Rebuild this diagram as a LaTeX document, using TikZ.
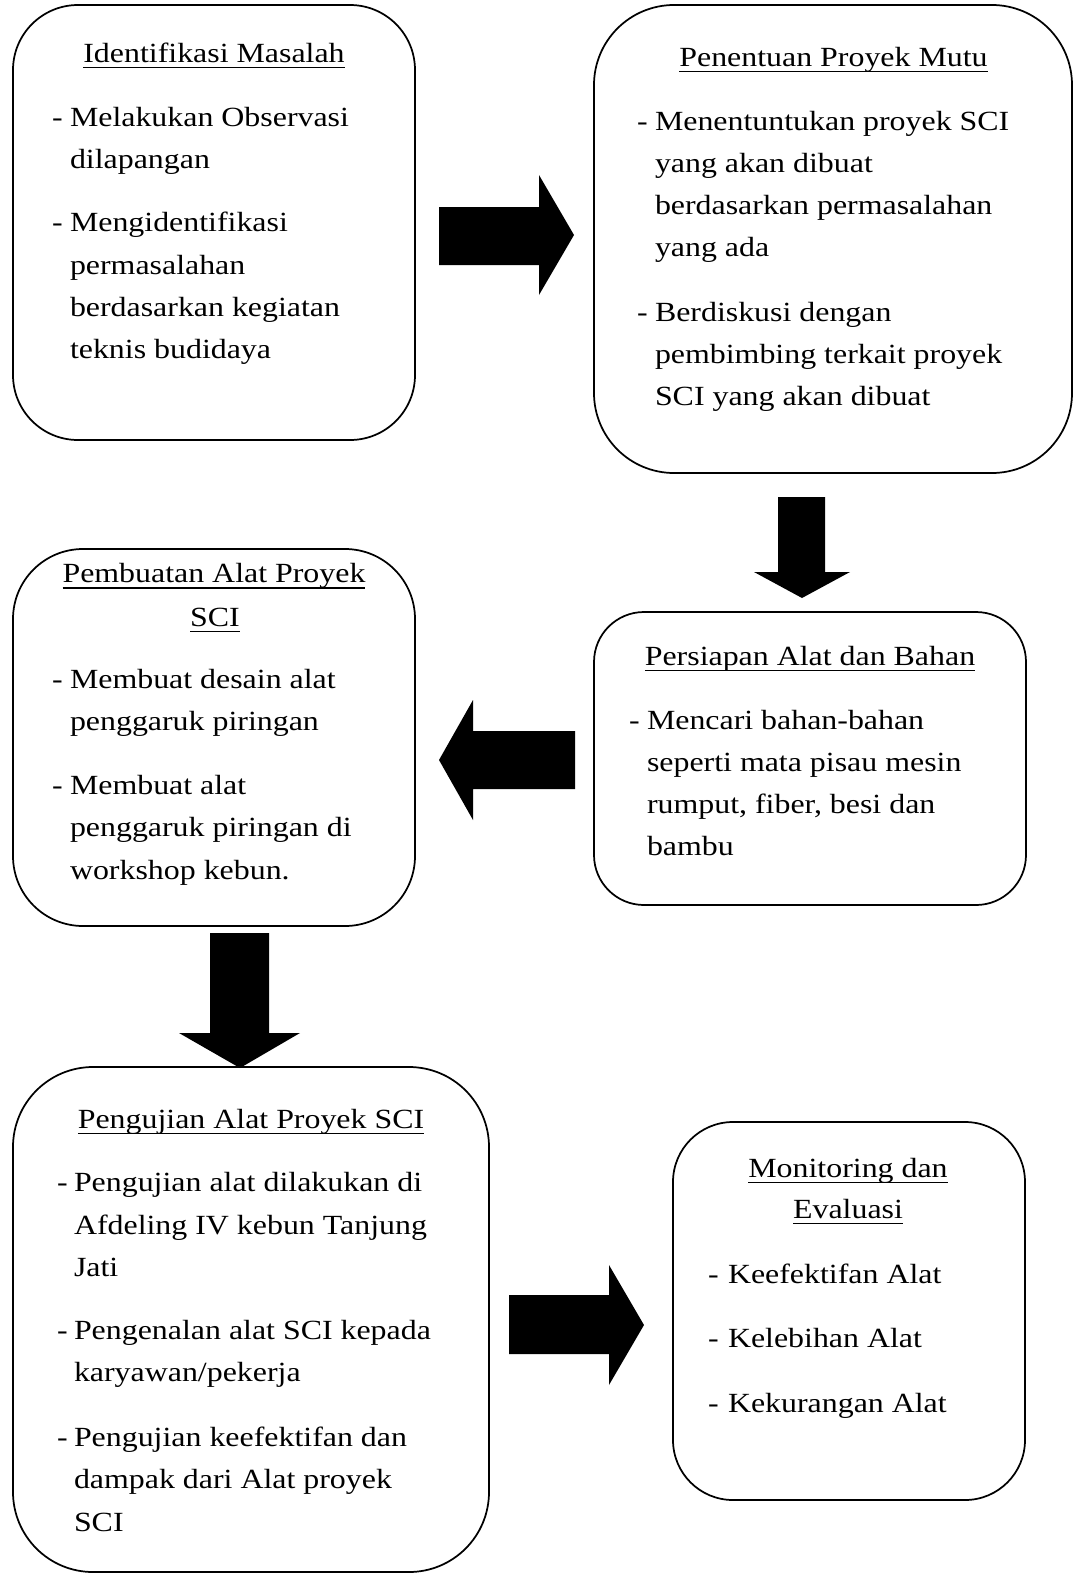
\documentclass[tikz,border=0pt]{standalone}
\usepackage{fontspec}
\setmainfont{Liberation Serif}[FakeStretch=1.15]
\usetikzlibrary{calc}
\tikzset{
  boxstyle/.style={draw=black, line width=1.3pt, inner sep=0pt},
  txt/.style={inner sep=0pt, outer sep=0pt, font=\fontsize{20.8pt}{25pt}\selectfont},
  ttl/.style={txt, anchor=base},
  lin/.style={txt, anchor=base west},
  uln/.style={line width=1.1pt},
  blk/.style={fill=black, draw=none}
}
\newcommand\mybox[6]{%
  \pgfmathsetmacro\bw{(#4-#2)*0.75}%
  \pgfmathsetmacro\bh{(#5-#3)*0.75}%
  \pgfmathsetmacro\br{#6*0.75}%
  \node[boxstyle, rounded corners=\br pt, minimum width=\bw pt, minimum height=\bh pt]
    (#1) at ({(#2+#4)/2},{(#3+#5)/2}) {};}
\newcommand\mytitle[4]{%
  \node[ttl] (#1) at (#2,#3) {#4};
  \draw[uln] ($(#1.base west)+(0,5.5)$) -- ($(#1.base east)+(0,5.5)$);}
\newcommand\tline[4]{\node[lin] (#1) at (#2,#3) {#4};}
\newcommand\tdash[3]{\node[lin] (#1) at (#2,#3) {-};}
\begin{document}
\begin{tikzpicture}[x=0.75pt, y=-0.75pt]
\useasboundingbox (0,0) rectangle (1078,1575);
\fill[white] (0,0) rectangle (1078,1575);

% Box 1
\mybox{b1}{13}{5}{415}{440}{65}
\mytitle{b1t}{214}{62}{Identifikasi Masalah}
\tdash{b1d1}{52}{126.5}
\tline{b1a}{70}{126.5}{Melakukan Observasi}
\tline{b1b}{70}{168.8}{dilapangan}
\tdash{b1d2}{52}{231.7}
\tline{b1c}{70}{231.7}{Mengidentifikasi}
\tline{b1d}{70}{274}{permasalahan}
\tline{b1e}{70}{316.3}{berdasarkan kegiatan}
\tline{b1f}{70}{358.6}{teknis budidaya}

% Box 2
\mybox{b2}{594}{5}{1072}{473}{80}
\mytitle{b2t}{833.5}{66}{Penentuan Proyek Mutu}
\tdash{b2d1}{637}{130}
\tline{b2a}{655}{130}{Menentuntukan proyek SCI}
\tline{b2b}{655}{172}{yang akan dibuat}
\tline{b2c}{655}{214}{berdasarkan permasalahan}
\tline{b2e}{655}{256}{yang ada}
\tdash{b2d2}{637}{321}
\tline{b2f}{655}{321}{Berdiskusi dengan}
\tline{b2g}{655}{363}{pembimbing terkait proyek}
\tline{b2h}{655}{405}{SCI yang akan dibuat}

% Box 3
\mybox{b3}{594}{612}{1026}{905}{50}
\mytitle{b3t}{810}{665}{Persiapan Alat dan Bahan}
\tdash{b3d1}{629}{729}
\tline{b3a}{647}{729}{Mencari bahan-bahan}
\tline{b3b}{647}{771}{seperti mata pisau mesin}
\tline{b3c}{647}{813}{rumput, fiber, besi dan}
\tline{b3e}{647}{855}{bambu}

% Box 4
\mybox{b4}{13}{549}{415}{926}{70}
\mytitle{b4t}{214}{582.7}{Pembuatan Alat Proyek}
\mytitle{b4u}{215}{626}{SCI}
\tdash{b4d1}{52}{688}
\tline{b4a}{70}{688}{Membuat desain alat}
\tline{b4b}{70}{730.5}{penggaruk piringan}
\tdash{b4d2}{52}{794}
\tline{b4c}{70}{794}{Membuat alat}
\tline{b4e}{70}{836.5}{penggaruk piringan di}
\tline{b4f}{70}{879}{workshop kebun.}

% Box 5
\mybox{b5}{13}{1067}{489}{1572}{80}
\mytitle{b5t}{251}{1128}{Pengujian Alat Proyek SCI}
\tdash{b5d1}{57}{1191.7}
\tline{b5a}{74}{1191.7}{Pengujian alat dilakukan di}
\tline{b5b}{74}{1234}{Afdeling IV kebun Tanjung}
\tline{b5c}{74}{1276}{Jati}
\tdash{b5d2}{57}{1339}
\tline{b5e}{74}{1339}{Pengenalan alat SCI kepada}
\tline{b5f}{74}{1381.5}{karyawan/pekerja}
\tdash{b5d3}{57}{1446}
\tline{b5g}{74}{1446}{Pengujian keefektifan dan}
\tline{b5h}{74}{1488}{dampak dari Alat proyek}
\tline{b5i}{74}{1531}{SCI}

% Box 6
\mybox{b6}{673}{1122}{1025}{1500}{60}
\mytitle{b6t}{848}{1177}{Monitoring dan}
\mytitle{b6u}{848}{1218}{Evaluasi}
\tdash{b6d1}{708}{1283}
\tline{b6a}{728}{1283}{Keefektifan Alat}
\tdash{b6d2}{708}{1347}
\tline{b6b}{728}{1347}{Kelebihan Alat}
\tdash{b6d3}{708}{1412}
\tline{b6c}{728}{1412}{Kekurangan Alat}

% Block arrows
\fill[blk] (439,207) -- (539,207) -- (539,175) -- (574,235) -- (539,295) -- (539,265) -- (439,265) -- cycle;
\fill[blk] (778,497) -- (825,497) -- (825,572) -- (850,572) -- (802,598) -- (754,572) -- (778,572) -- cycle;
\fill[blk] (575,731) -- (473,731) -- (473,700) -- (439,760) -- (473,820) -- (473,789) -- (575,789) -- cycle;
\fill[blk] (210,933) -- (269,933) -- (269,1033) -- (300,1033) -- (240,1068) -- (179,1033) -- (210,1033) -- cycle;
\fill[blk] (509,1295) -- (609,1295) -- (609,1265) -- (644,1325) -- (609,1385) -- (609,1354) -- (509,1354) -- cycle;
\end{tikzpicture}
\end{document}
